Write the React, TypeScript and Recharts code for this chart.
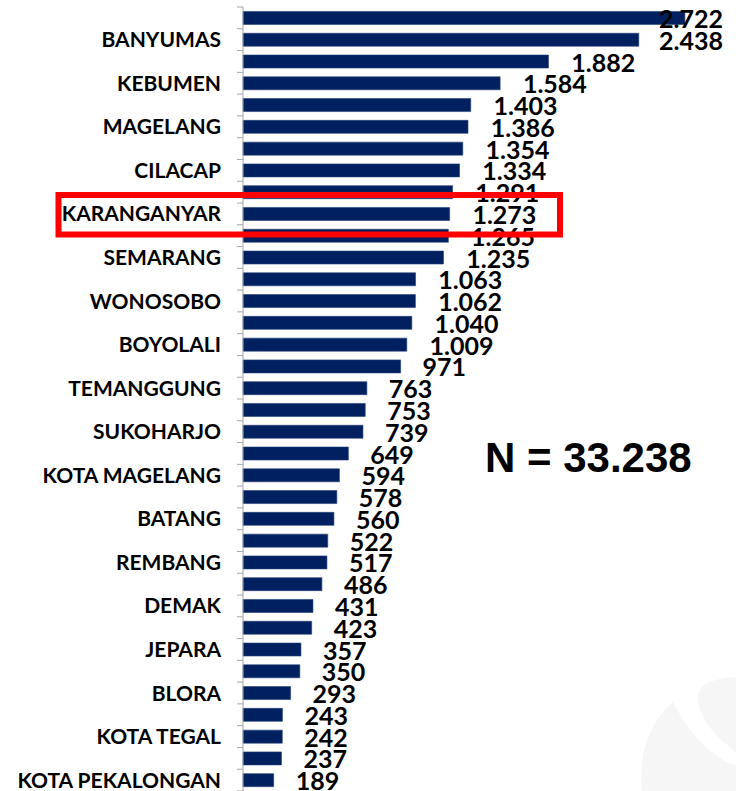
import { BarChart, Bar, XAxis, YAxis, LabelList } from 'recharts';

// Region names; only every other one is printed on the axis
const categories = [
  'KOTA SEMARANG', 'BANYUMAS', 'BREBES', 'KEBUMEN', 'KLATEN', 'MAGELANG',
  'PATI', 'CILACAP', 'GROBOGAN', 'KARANGANYAR', 'KOTA SURAKARTA', 'SEMARANG',
  'PURBALINGGA', 'WONOSOBO', 'SRAGEN', 'BOYOLALI', 'WONOGIRI', 'TEMANGGUNG',
  'BANJARNEGARA', 'SUKOHARJO', 'PURWOREJO', 'KOTA MAGELANG', 'KENDAL', 'BATANG',
  'KUDUS', 'REMBANG', 'PEMALANG', 'DEMAK', 'TEGAL', 'JEPARA',
  'PEKALONGAN', 'BLORA', 'KOTA SALATIGA', 'KOTA TEGAL', 'LAINNYA', 'KOTA PEKALONGAN',
];

const counts = [
  2722, 2438, 1882, 1584, 1403, 1386, 1354, 1334, 1291, 1273, 1265, 1235,
  1063, 1062, 1040, 1009, 971, 763, 753, 739, 649, 594, 578, 560,
  522, 517, 486, 431, 423, 357, 350, 293, 243, 242, 237, 189,
];

const totalLabel = 'N = 33.238';

const data = categories.map((name, i) => ({ name, count: counts[i] }));

// numbers in Indonesian format: 1.234
const fmt = (v: number) => v.toLocaleString('de-DE');

const CategoryTick = (props: any) => {
  const { x, y, payload, index } = props;
  const axisX = x + 8;
  const half = payload.offset ?? 0;
  return (
    <g>
      <line x1={axisX - 6} x2={axisX} y1={y - half} y2={y - half} stroke="#a6a6a6" />
      {index === categories.length - 1 && (
        <line x1={axisX - 6} x2={axisX} y1={y + half} y2={y + half} stroke="#a6a6a6" />
      )}
      {index % 2 === 1 && (
        <text
          x={axisX - 22}
          y={y + 7.5}
          textAnchor="end"
          fontFamily="Lato"
          fontWeight={700}
          fontSize={21}
          fill="#000"
        >
          {payload.value}
        </text>
      )}
    </g>
  );
};

const ValueLabel = (props: any) => {
  const { x, y, width, height, value } = props;
  const str = fmt(Number(value));
  const digits = str.replace(/\./g, '').length;
  const dots = str.length - digits;
  const w = digits * 14.5 + dots * 6.7;
  const right = Math.min(x + width + 22 + w, 723);
  return (
    <text
      x={right}
      y={y + height / 2 + 10}
      textAnchor="end"
      fontFamily="Lato"
      fontWeight={700}
      fontSize={25}
      fill="#000"
    >
      {str}
    </text>
  );
};

export default function App() {
  return (
    <div style={{ position: 'absolute', left: 0, top: 0, width: 736, height: 791, background: '#fff', overflow: 'hidden' }}>
      <svg width={736} height={791} style={{ position: 'absolute', left: 0, top: 0 }}>
        <path d="M 642 791 C 638 752, 650 722, 673 702 C 690 735, 710 756, 736 766 L 736 791 Z" fill="#f6f6f6" />
        <path d="M 736 677 C 716 678, 701 683, 698 695 C 697 716, 714 736, 736 752 Z" fill="#f6f6f6" />
      </svg>
      <div style={{ position: 'absolute', left: 0, top: 0 }}>
        <BarChart
          width={736}
          height={791}
          data={data}
          layout="vertical"
          margin={{ top: 7, right: 6, bottom: 0, left: 0 }}
          barCategoryGap="20.5%"
        >
          <XAxis type="number" domain={[0, 3000]} hide />
          <YAxis
            type="category"
            dataKey="name"
            width={243}
            interval={0}
            tickSize={6}
            tickMargin={2}
            tickLine={false}
            axisLine={{ stroke: '#a6a6a6' }}
            tick={<CategoryTick />}
          />
          <Bar dataKey="count" fill="#002060" stroke="#24407a" strokeWidth={0.6} isAnimationActive={false}>
            <LabelList dataKey="count" content={<ValueLabel />} />
          </Bar>
        </BarChart>
      </div>
      <svg width={736} height={791} style={{ position: 'absolute', left: 0, top: 0, pointerEvents: 'none' }}>
        <rect x={58.5} y={195} width={501.5} height={39.5} fill="none" stroke="#ff0000" strokeWidth={6} />
        <text x={485} y={472} fontFamily="Liberation Sans" fontWeight={700} fontSize={42} fill="#000">
          {totalLabel}
        </text>
      </svg>
    </div>
  );
}
